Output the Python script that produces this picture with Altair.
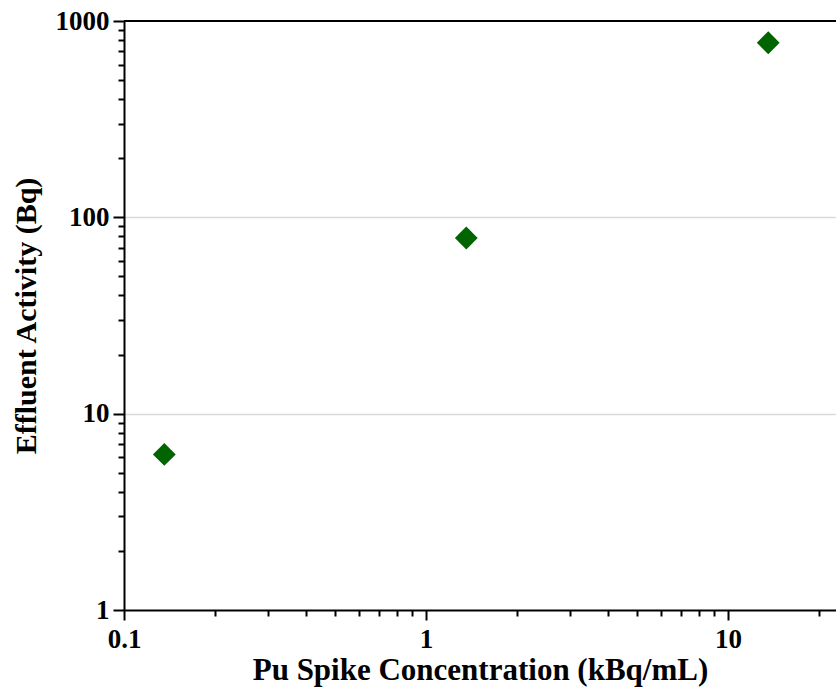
import altair as alt
import pandas as pd

# Effluent activity measured for three Pu spike concentrations
spike_conc = [0.136, 1.36, 13.6]        # kBq/mL
effluent_activity = [6.2, 78.5, 775.0]  # Bq

x_major = [0.1, 1, 10]
x_minor = [0.2, 0.3, 0.4, 0.5, 0.6, 0.7, 0.8, 0.9,
           2, 3, 4, 5, 6, 7, 8, 9, 20]
y_major = [1, 10, 100, 1000]
y_minor = [2, 3, 4, 5, 6, 7, 8, 9,
           20, 30, 40, 50, 60, 70, 80, 90,
           200, 300, 400, 500, 600, 700, 800, 900]
y_grid = [10, 100]

df = pd.DataFrame({"conc": spike_conc, "activity": effluent_activity})

W, H = 712, 589
FONT = "Liberation Serif"
LABEL_SIZE = 27
X_TITLE = "Pu Spike Concentration (kBq/mL)"
Y_TITLE = "Effluent Activity (Bq)"


def is_in(values):
    return "indexof(%s, datum.value) >= 0" % str(list(values))


x_is_major = is_in(x_major)
y_is_major = is_in(y_major)

x_scale = alt.Scale(type="log", domain=[0.1, 22.8], nice=False)
y_scale = alt.Scale(type="log", domain=[1, 1000], nice=False)

common_axis = dict(
    domainWidth=2, domainColor="black", tickColor="black", tickWidth=2,
    labelFont=FONT, labelFontSize=LABEL_SIZE, labelFontWeight="bold",
    labelColor="black", labelFlush=False, labelOverlap=False,
    titleFont=FONT, titleFontWeight="bold", titleColor="black",
)

x_axis = alt.Axis(
    values=sorted(x_major + x_minor), format="~g",
    labelExpr="%s ? datum.label : ''" % x_is_major,
    tickSize={"condition": {"test": x_is_major, "value": 10}, "value": 6},
    grid=False, labelPadding=6, titlePadding=3, titleFontSize=31,
    **common_axis,
)

y_axis = alt.Axis(
    values=sorted(y_major + y_minor), format="~g",
    labelExpr="%s ? datum.label : ''" % y_is_major,
    tickSize={"condition": {"test": y_is_major, "value": 11}, "value": 6},
    grid=True, gridColor="#d9d9d9", gridWidth=1.5,
    gridOpacity={"condition": {"test": is_in(y_grid), "value": 1}, "value": 0},
    labelPadding=4, titlePadding=14, titleFontSize=30, **common_axis,
)

points = alt.Chart(df).mark_point(
    shape="diamond", filled=True, size=520, color="#006400", opacity=1
).encode(
    x=alt.X("conc:Q", scale=x_scale, title=X_TITLE, axis=x_axis),
    y=alt.Y("activity:Q", scale=y_scale, title=Y_TITLE, axis=y_axis),
)

# Top frame line at the upper end of the activity range
frame = alt.Chart(df).mark_rule(color="black", strokeWidth=2).encode(
    y=alt.Y(datum=1000, scale=y_scale, title=Y_TITLE, axis=y_axis)
)

chart = alt.layer(points, frame).properties(
    width=W, height=H,
    autosize="none",
    padding={"left": 124, "top": 21, "right": 0, "bottom": 83},
).configure_view(stroke=None)

chart.save("out.html", embed_options={"renderer": "svg", "actions": False})
